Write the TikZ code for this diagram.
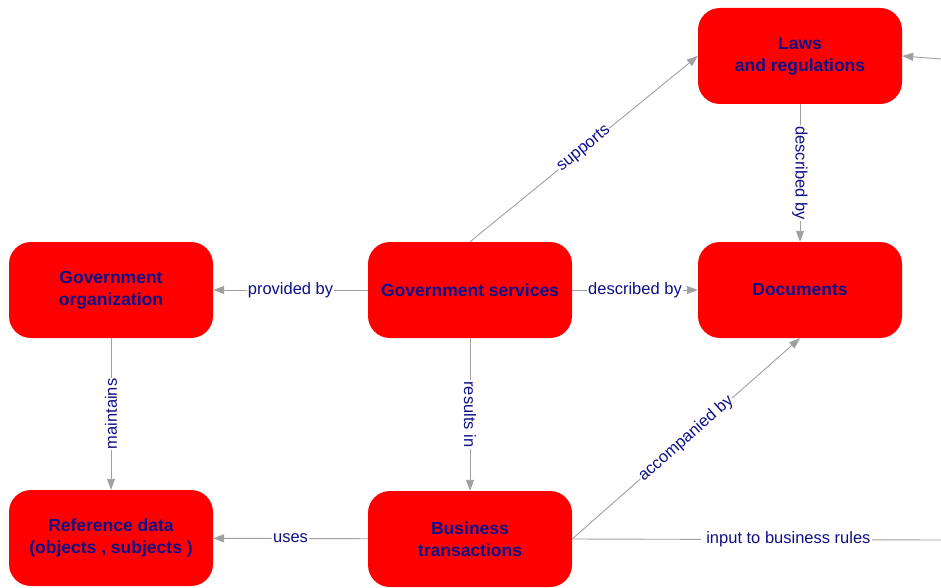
\documentclass[tikz,border=0pt]{standalone}
\usepackage{fontspec}
\setmainfont{Liberation Sans}
\usepackage{xcolor}
\usepackage{tikz}
\usetikzlibrary{arrows.meta}

\definecolor{navy}{RGB}{15,15,135}
\definecolor{linkgray}{RGB}{160,160,160}

\tikzset{
	box/.style={rectangle,rounded corners=22pt,fill=red,text=navy,
		font={\fontsize{17.5}{22}\selectfont\bfseries},
		minimum width=204pt,minimum height=96pt,align=center,inner sep=0pt},
	link/.style={-{Triangle[length=11pt,width=8pt]},draw=linkgray,line width=0.9pt},
	lbl/.style={fill=white,text=navy,font={\fontsize{16.5}{20}\selectfont},inner sep=1pt},
}

\begin{document}
\begin{tikzpicture}[x=1pt,y=-1pt]
	\useasboundingbox (0,0) rectangle (941,588);
	
	\foreach \n/\x/\y/\name in {law/800/56/{Laws\\and regulations},
		gov/111/290/{Government\\organization},
		srv/470/290/{Government services},
		doc/800/290/{Documents},
		ref/111/538/{Reference data\\(objects , subjects )},
		bus/470/539/{Business\\transactions}}{
		\node[box] (\n) at (\x,\y) {\name};
	}
	
	\coordinate (rules) at (941,540);
	\coordinate (extern) at (941,59);
	
	\draw[link] (srv) -- node[lbl] {provided by} (gov);
	\draw[link] (srv) -- node[lbl] {described by} (doc);
	\draw[link] (srv.north) -- node[lbl,sloped] {supports} (law.west);
	\draw[link] (law) -- node[lbl,sloped] {described by} (doc);
	\draw[link] (gov) -- node[lbl,rotate=90] {maintains} (ref);
	\draw[link] (srv) -- node[lbl,sloped] {results in} (bus);
	\draw[link] (bus) -- node[lbl] {uses} (ref);
	\draw[link] (bus.east) -- node[lbl,sloped] {accompanied by} (doc.south);
	\draw[draw=linkgray,line width=0.9pt] (bus.east) -- node[lbl,pos=0.58] {\ input to business rules\ } (rules);
	\draw[link] (extern) -- (law.east);
\end{tikzpicture}
\end{document}
